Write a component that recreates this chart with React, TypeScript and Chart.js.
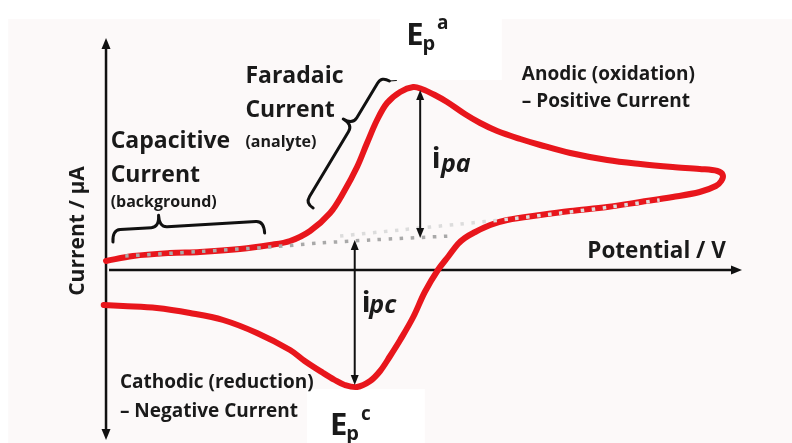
import React, { useEffect, useRef } from "react";
import { Chart, registerables } from "chart.js";

Chart.register(...registerables);

// ---- Data (potential in V, current in µA) ----
const forwardPotential = [0.0, 0.035, 0.083, 0.122, 0.174, 0.213, 0.239, 0.265, 0.291, 0.308, 0.326, 0.339, 0.352, 0.365, 0.382, 0.399, 0.41, 0.427, 0.443, 0.466, 0.486, 0.508, 0.538, 0.564, 0.603, 0.651, 0.694, 0.736, 0.771, 0.794, 0.801, 0.799, 0.792];
const forwardCurrent = [0.9, 1.4, 1.7, 1.8, 2.1, 2.5, 2.9, 3.9, 5.7, 7.7, 10.3, 12.7, 15.0, 16.7, 17.8, 18.3, 18.1, 17.5, 16.8, 15.6, 14.7, 13.9, 13.1, 12.5, 11.7, 11.0, 10.6, 10.3, 10.1, 9.9, 9.5, 8.9, 8.4];
const reversePotential = [0.771, 0.736, 0.694, 0.651, 0.603, 0.564, 0.521, 0.499, 0.477, 0.466, 0.457, 0.445, 0.431, 0.414, 0.399, 0.382, 0.369, 0.356, 0.343, 0.326, 0.31, 0.297, 0.282, 0.258, 0.239, 0.196, 0.152, 0.109, 0.066, 0.022, -0.003];
const reverseCurrent = [7.8, 7.3, 6.8, 6.3, 5.9, 5.5, 5.0, 4.5, 3.7, 3.2, 2.6, 1.4, 0.0, -2.2, -4.7, -7.0, -8.6, -10.1, -11.1, -11.7, -11.5, -11.0, -10.3, -9.1, -8.0, -6.3, -5.0, -4.3, -3.8, -3.6, -3.5];
const baselinePotential = [0.025, 0.122, 0.213, 0.278, 0.343, 0.447];
const baselineCurrent = [1.4, 1.85, 2.3, 2.7, 3.0, 3.4];
const returnBasePotential = [0.304, 0.382, 0.46, 0.525, 0.59, 0.655, 0.719];
const returnBaseCurrent = [3.4, 4.0, 4.6, 5.1, 5.7, 6.3, 7.0];

// axis extents
const potentialMin = -0.1377;
const potentialMax = 0.8909;
const currentMin = -17.3;
const currentMax = 27.0;
const axisEndPotential = 0.826;
const axisTopCurrent = 23.2;
const axisBottomCurrent = -17.0;

// peak current markers [potential, from current, to current]
const ipaMarker = [0.408, 18.0, 3.2];
const ipcMarker = [0.323, 3.0, -11.5];

const toPts = (xs: number[], ys: number[]) => xs.map((x, i) => ({ x, y: ys[i] }));

const FONT = "'Open Sans', 'DejaVu Sans', sans-serif";
const INK = "#1a1a1a";

type Lbl = { t: string; e: number; i: number; f: string };
const labels: Lbl[] = [
  { t: "Capacitive", e: 0.006, i: 12.2, f: `bold 23px ${FONT}` },
  { t: "Current", e: 0.006, i: 8.8, f: `bold 23px ${FONT}` },
  { t: "(background)", e: 0.006, i: 6.3, f: `bold 16px ${FONT}` },
  { t: "Faradaic", e: 0.181, i: 18.7, f: `bold 23px ${FONT}` },
  { t: "Current", e: 0.181, i: 15.3, f: `bold 23px ${FONT}` },
  { t: "(analyte)", e: 0.181, i: 12.3, f: `bold 16px ${FONT}` },
  { t: "Anodic (oxidation)", e: 0.54, i: 19.0, f: `bold 19px ${FONT}` },
  { t: "– Positive Current", e: 0.54, i: 16.3, f: `bold 19px ${FONT}` },
  { t: "Potential / V", e: 0.625, i: 1.2, f: `bold 22.5px ${FONT}` },
  { t: "Cathodic (reduction)", e: 0.018, i: -11.8, f: `bold 19px ${FONT}` },
  { t: "– Negative Current", e: 0.018, i: -14.7, f: `bold 19px ${FONT}` },
  { t: "E", e: 0.39, i: 22.5, f: `bold 31px ${FONT}` },
  { t: "p", e: 0.411, i: 22.0, f: `bold 20px ${FONT}` },
  { t: "a", e: 0.43, i: 24.1, f: `bold 19px ${FONT}` },
  { t: "E", e: 0.291, i: -16.5, f: `bold 31px ${FONT}` },
  { t: "p", e: 0.312, i: -17.0, f: `bold 20px ${FONT}` },
  { t: "c", e: 0.331, i: -15.0, f: `bold 19px ${FONT}` },
  { t: "i", e: 0.423, i: 10.2, f: `bold 29px ${FONT}` },
  { t: "pa", e: 0.435, i: 9.8, f: `italic bold 25px ${FONT}` },
  { t: "i", e: 0.332, i: -4.2, f: `bold 29px ${FONT}` },
  { t: "pc", e: 0.342, i: -4.3, f: `italic bold 25px ${FONT}` },
];

// braces: [startPotential, startCurrent, endPotential, endCurrent]
const braceCap = [0.009, 2.8, 0.206, 3.7];
const braceFar = [0.269, 6.2, 0.368, 18.9];

const cvPlugin = {
  id: "cvDecor",
  beforeDraw(chart: any) {
    const { ctx, scales } = chart;
    const X = (v: number) => scales.x.getPixelForValue(v);
    const Y = (v: number) => scales.y.getPixelForValue(v);
    ctx.save();
    ctx.fillStyle = "#ffffff";
    ctx.fillRect(0, 0, chart.width, chart.height);
    ctx.fillStyle = "#fcf9f9";
    ctx.fillRect(X(-0.127), Y(25.1), chart.width, chart.height);
    ctx.fillStyle = "#ffffff";
    ctx.fillRect(X(0.356), Y(27.0), X(0.514) - X(0.356), Y(19.0) - Y(27.0));
    ctx.fillRect(X(0.261), Y(-11.9), X(0.414) - X(0.261), Y(-17.3) - Y(-11.9));
    ctx.restore();
  },
  beforeDatasetsDraw(chart: any) {
    const { ctx, scales } = chart;
    const X = (v: number) => scales.x.getPixelForValue(v);
    const Y = (v: number) => scales.y.getPixelForValue(v);
    ctx.save();
    ctx.strokeStyle = "#111";
    ctx.fillStyle = "#111";
    ctx.lineWidth = 2.5;
    const x0 = X(0);
    ctx.beginPath();
    ctx.moveTo(x0, Y(axisTopCurrent) + 6);
    ctx.lineTo(x0, Y(axisBottomCurrent) - 6);
    ctx.stroke();
    arrowHead(ctx, x0, Y(axisTopCurrent), 0, -1, 11, 4.5);
    arrowHead(ctx, x0, Y(axisBottomCurrent), 0, 1, 11, 4.5);
    const y0 = Y(0);
    ctx.beginPath();
    ctx.moveTo(x0 + 3, y0);
    ctx.lineTo(X(axisEndPotential) - 6, y0);
    ctx.stroke();
    arrowHead(ctx, X(axisEndPotential), y0, 1, 0, 11, 4.5);
    ctx.restore();
  },
  afterDatasetsDraw(chart: any) {
    const { ctx, scales } = chart;
    const X = (v: number) => scales.x.getPixelForValue(v);
    const Y = (v: number) => scales.y.getPixelForValue(v);
    ctx.save();
    ctx.strokeStyle = "#111";
    ctx.fillStyle = "#111";
    ctx.lineWidth = 2;
    for (const m of [ipaMarker, ipcMarker]) {
      const x = X(m[0]);
      const ya = Y(m[1]);
      const yb = Y(m[2]);
      ctx.beginPath();
      ctx.moveTo(x, ya + 6);
      ctx.lineTo(x, yb - 6);
      ctx.stroke();
      arrowHead(ctx, x, ya, 0, -1, 10, 4);
      arrowHead(ctx, x, yb, 0, 1, 10, 4);
    }
    ctx.lineWidth = 3;
    ctx.lineCap = "round";
    ctx.lineJoin = "round";
    drawBrace(ctx, X(braceCap[0]), Y(braceCap[1]), X(braceCap[2]), Y(braceCap[3]), 12, 12, 0.31, 8);
    drawBrace(ctx, X(braceFar[0]), Y(braceFar[1]), X(braceFar[2]), Y(braceFar[3]), 9, 11, 0.62, 8);
    ctx.lineWidth = 1.2;
    ctx.beginPath();
    ctx.moveTo(X(braceFar[2]), Y(braceFar[3]));
    ctx.lineTo(X(braceFar[2]) + 7, Y(braceFar[3]) - 0.5);
    ctx.stroke();
    ctx.fillStyle = INK;
    ctx.textAlign = "left";
    ctx.textBaseline = "alphabetic";
    for (const l of labels) {
      ctx.font = l.f;
      ctx.fillText(l.t, X(l.e), Y(l.i));
    }
    ctx.save();
    ctx.translate(X(-0.036), Y(3.9));
    ctx.rotate(-Math.PI / 2);
    ctx.font = `bold 21px ${FONT}`;
    ctx.textAlign = "center";
    ctx.textBaseline = "middle";
    ctx.fillText("Current / µA", 0, 0);
    ctx.restore();
    ctx.restore();
  },
};

function arrowHead(ctx: CanvasRenderingContext2D, x: number, y: number, dx: number, dy: number, len: number, half: number) {
  const bx = x - dx * len;
  const by = y - dy * len;
  ctx.beginPath();
  ctx.moveTo(x, y);
  ctx.lineTo(bx - dy * half, by + dx * half);
  ctx.lineTo(bx + dy * half, by - dx * half);
  ctx.closePath();
  ctx.fill();
}

function drawBrace(ctx: CanvasRenderingContext2D, ax: number, ay: number, bx: number, by: number, d: number, h: number, t: number, r: number) {
  const L = Math.hypot(bx - ax, by - ay);
  const ux = (bx - ax) / L;
  const uy = (by - ay) / L;
  const nx = uy;
  const ny = -ux;
  const P = (s: number, o: number): [number, number] => [ax + ux * s + nx * o, ay + uy * s + ny * o];
  const m = t * L;
  ctx.beginPath();
  ctx.moveTo(...P(0, 0));
  ctx.quadraticCurveTo(...P(0, d), ...P(r, d));
  ctx.lineTo(...P(m - r, d));
  ctx.quadraticCurveTo(...P(m, d), ...P(m, d + h));
  ctx.quadraticCurveTo(...P(m, d), ...P(m + r, d));
  ctx.lineTo(...P(L - r, d));
  ctx.quadraticCurveTo(...P(L, d), ...P(L, 0));
  ctx.stroke();
}

export default function App() {
  const ref = useRef<HTMLCanvasElement | null>(null);
  useEffect(() => {
    if (!ref.current) return;
    const loop = toPts(forwardPotential.concat(reversePotential), forwardCurrent.concat(reverseCurrent));
    const chart = new Chart(ref.current, {
      type: "scatter",
      data: {
        datasets: [
          {
            label: "baseline",
            data: toPts(baselinePotential, baselineCurrent),
            showLine: true,
            borderColor: "#a9a9a9",
            borderWidth: 3.5,
            borderDash: [3.5, 7.5],
            pointRadius: 0,
            tension: 0.3,
            order: 1,
          },
          {
            label: "return baseline",
            data: toPts(returnBasePotential, returnBaseCurrent),
            showLine: true,
            borderColor: "#dcdcdc",
            borderWidth: 3.5,
            borderDash: [3.5, 7.5],
            pointRadius: 0,
            tension: 0.3,
            order: 1,
          },
          {
            label: "CV",
            data: loop,
            showLine: true,
            borderColor: "#e8161c",
            borderWidth: 6,
            pointRadius: 0,
            tension: 0.35,
            borderCapStyle: "round",
            borderJoinStyle: "round",
            order: 2,
          },
        ],
      } as any,
      options: {
        responsive: false,
        animation: false,
        events: [],
        layout: { padding: 0 },
        plugins: { legend: { display: false }, tooltip: { enabled: false } },
        scales: {
          x: { type: "linear", min: potentialMin, max: potentialMax, display: false },
          y: { type: "linear", min: currentMin, max: currentMax, display: false },
        },
      } as any,
      plugins: [cvPlugin],
    });
    return () => chart.destroy();
  }, []);
  return (
    <div style={{ position: "fixed", left: 0, top: 0, width: 792, height: 443 }}>
      <canvas ref={ref} width={792} height={443} style={{ display: "block" }} />
    </div>
  );
}
